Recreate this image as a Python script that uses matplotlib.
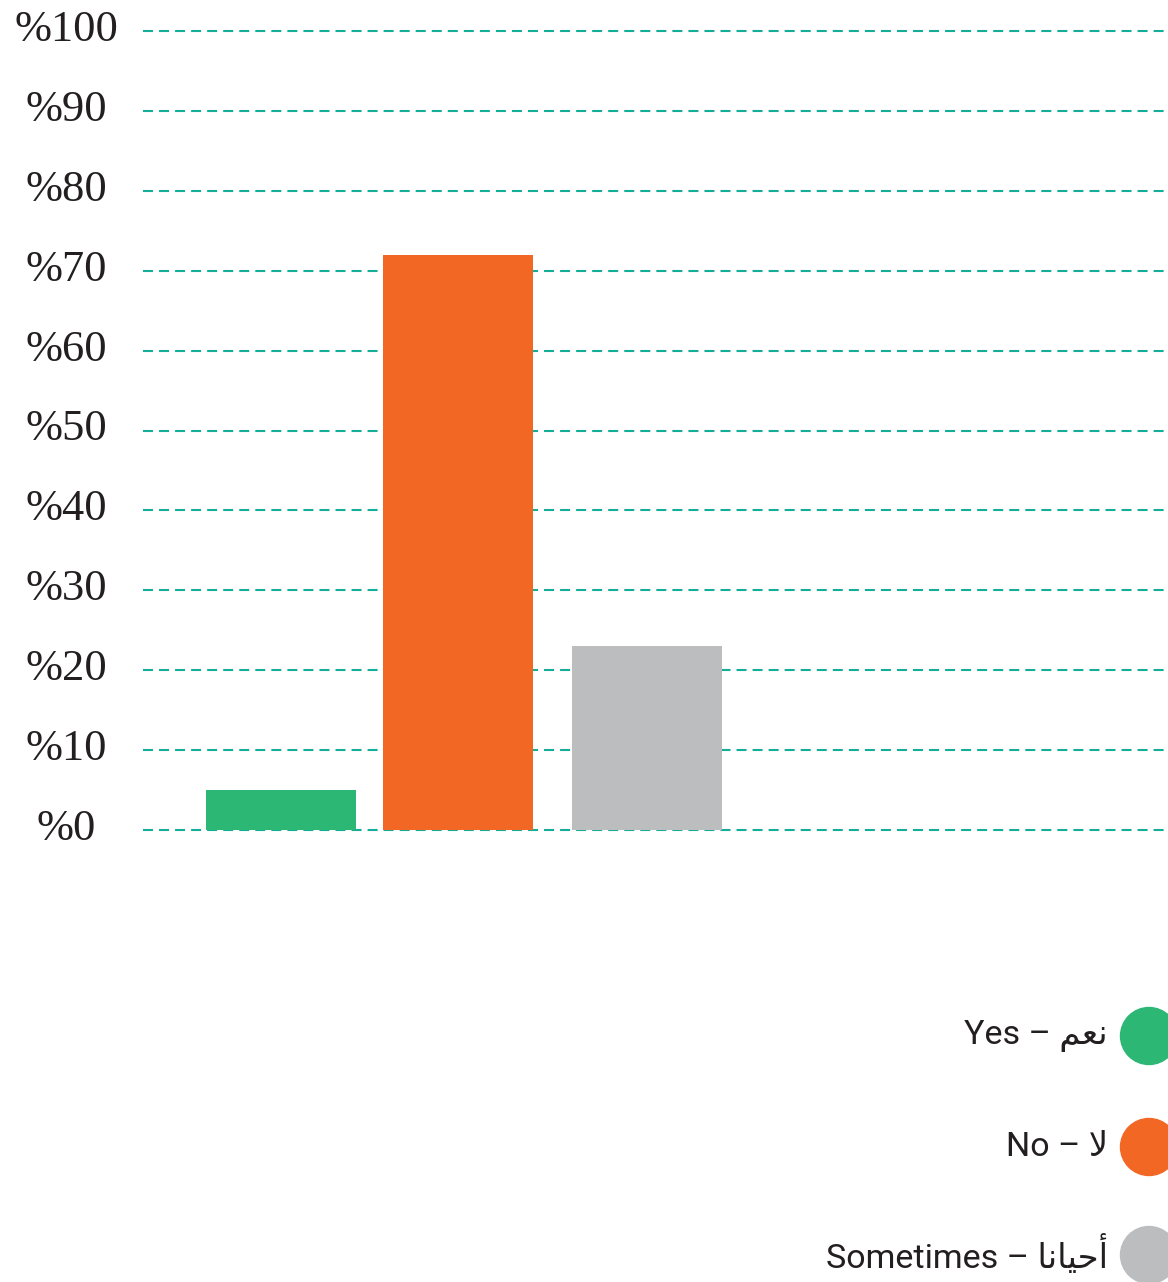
import matplotlib
matplotlib.use("Agg")
import matplotlib.pyplot as plt
from matplotlib.patches import Circle

# ---- data ----
categories = ["Yes", "No", "Sometimes"]
values = [5, 72, 23]
colors = ["#2db775", "#f26724", "#bcbdbf"]
tick_values = [0, 10, 20, 30, 40, 50, 60, 70, 80, 90, 100]
tick_labels = ["%" + str(v) for v in tick_values]
# Arabic labels in visual (shaped, left-to-right) order
legend_labels = [
    "Yes \u2013 \uFEE2\uFECC\uFEE7",                              # نعم
    "No \u2013 \uFEFB",                                           # لا
    "Sometimes \u2013 \uFE8E\uFEE7\uFE8E\uFEF4\uFEA3\uFE83",       # أحيانا
]

W, H = 1168, 1282
fig = plt.figure(figsize=(W / 100, H / 100), dpi=100)
fig.patch.set_facecolor("white")

# main axes in pixel-based layout
ax_left, ax_right = 143, 1168
ax_top, ax_bot = 10, 850
y0_px, y100_px = 830, 31
ax = fig.add_axes([ax_left / W, 1 - ax_bot / H, (ax_right - ax_left) / W, (ax_bot - ax_top) / H])
ppu = (y0_px - y100_px) / 100.0
ax.set_ylim(-(ax_bot - y0_px) / ppu, 100 + (y100_px - ax_top) / ppu)
ax.set_xlim(ax_left, ax_right)

centers = [281, 458, 647]
ax.bar(centers, values, width=150, color=colors, zorder=3)

for v in tick_values:
    ax.axhline(v, color="#14ad97", lw=1.5, ls=(0, (4.8, 2.9)), zorder=2)

ax.set_xticks([])
ax.set_yticks([])
for s in ax.spines.values():
    s.set_visible(False)
ax.patch.set_alpha(0)

# overlay axes in pixel coords for labels and legend
ov = fig.add_axes([0, 0, 1, 1])
ov.set_xlim(0, W)
ov.set_ylim(H, 0)
ov.axis("off")
ov.patch.set_alpha(0)

for v, lab in zip(tick_values, tick_labels):
    y = y0_px - v * ppu
    ov.text(66, y - 1, lab, ha="center", va="center", fontsize=32,
            family="Liberation Serif", color="#231f20")

leg_y = [1036, 1147, 1255]
for y, c, lab in zip(leg_y, colors, legend_labels):
    ov.add_patch(Circle((1149, y), 28.5, color=c, clip_on=False))
    ov.text(1108, y, lab, ha="right", va="center", fontsize=24.5,
            family=["Roboto", "DejaVu Sans"], color="#231f20")

fig.savefig("out.png", dpi=100)
